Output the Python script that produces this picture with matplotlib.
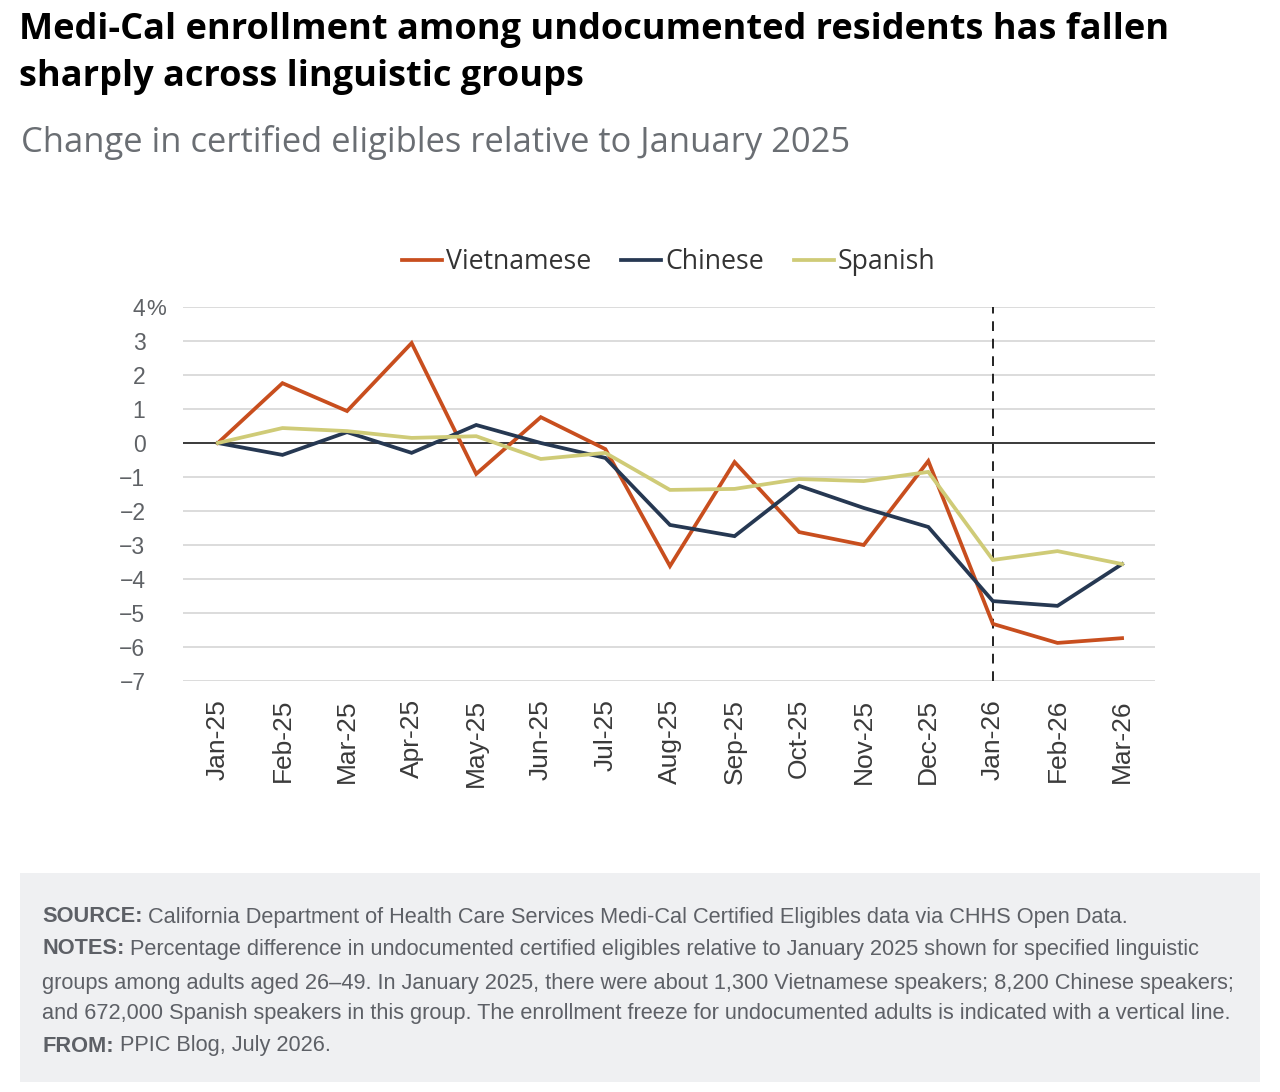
import matplotlib
matplotlib.use("Agg")
import matplotlib.pyplot as plt
from matplotlib.patches import Rectangle
from matplotlib.lines import Line2D

months = ["Jan-25", "Feb-25", "Mar-25", "Apr-25", "May-25", "Jun-25", "Jul-25",
          "Aug-25", "Sep-25", "Oct-25", "Nov-25", "Dec-25", "Jan-26", "Feb-26", "Mar-26"]
vietnamese = [0, 1.76, 0.94, 2.94, -0.91, 0.76, -0.18, -3.62, -0.56, -2.62, -3.0, -0.53, -5.32, -5.88, -5.74]
chinese = [0, -0.35, 0.32, -0.29, 0.53, 0.0, -0.44, -2.41, -2.74, -1.26, -1.91, -2.47, -4.65, -4.79, -3.56]
spanish = [0, 0.44, 0.35, 0.15, 0.20, -0.47, -0.29, -1.38, -1.35, -1.06, -1.12, -0.85, -3.44, -3.18, -3.56]
yticks = [4, 3, 2, 1, 0, -1, -2, -3, -4, -5, -6, -7]
freeze_month = "Jan-26"

series = [("Vietnamese", vietnamese, "#C84E1E"),
          ("Chinese", chinese, "#263852"),
          ("Spanish", spanish, "#CFCB77")]

W, H = 1280, 1092
fig = plt.figure(figsize=(W / 100, H / 100), dpi=100)
fig.patch.set_facecolor("white")

TITLE_FONT = ["Open Sans", "DejaVu Sans"]
BODY_FONT = ["Open Sans", "DejaVu Sans"]
TICK_FONT = ["Liberation Sans", "DejaVu Sans"]
NOTE_FONT = ["Liberation Sans", "DejaVu Sans"]

def fx(px):
    return px / W

def fy(py):
    return 1 - py / H

# Title & subtitle
fig.text(fx(19), fy(30), "Medi-Cal enrollment among undocumented residents has fallen",
         fontsize=26, fontweight="bold", family=TITLE_FONT, color="black", va="center")
fig.text(fx(19), fy(77), "sharply across linguistic groups",
         fontsize=26, fontweight="bold", family=TITLE_FONT, color="black", va="center")
fig.text(fx(21), fy(142), "Change in certified eligibles relative to January 2025",
         fontsize=24.8, family=TITLE_FONT, color="#6a6e73", va="center")

# Axes
ax = fig.add_axes([fx(183), fy(681), fx(1155 - 183), (681 - 307) / H])
x = list(range(len(months)))
ax.set_xlim(-0.54, 14.51)
ax.set_ylim(-7, 4)
for yv in yticks:
    if yv == 0:
        continue
    ax.axhline(yv, color="#dcdcdc", lw=1.4, zorder=1)
ax.axhline(0, color="#3a3a3a", lw=1.4, zorder=2)
xf = months.index(freeze_month)
ax.axvline(xf, color="#222222", lw=1.4, ls=(0, (5, 4)), zorder=2)

for name, vals, col in series:
    ax.plot(x, vals, color=col, lw=2.7, label=name, zorder=3, solid_joinstyle="miter")

for s in ax.spines.values():
    s.set_visible(False)
ax.set_yticks(yticks)
ax.set_yticklabels([str(v).replace("-", "\u2212") for v in yticks])
ax.tick_params(axis="y", length=0, pad=27, labelsize=16.5, labelcolor="#5f6266")
for lab in ax.get_yticklabels():
    lab.set_fontfamily(TICK_FONT)
fig.text(fx(146), ax.transData.transform((0, 4))[1] / H, "%", ha="left", va="center_baseline",
         fontsize=16, color="#5f6266", family=TICK_FONT)
ax.set_xticks(x)
ax.set_xticklabels(months, rotation=90)
ax.tick_params(axis="x", length=0, pad=13, labelsize=19, labelcolor="#3a3a3a")
for lab in ax.get_xticklabels():
    lab.set_fontfamily(TICK_FONT)

handles = [Line2D([0], [0], color=c, lw=2.7) for _, _, c in series]
leg = fig.legend(handles, [n for n, _, _ in series], loc="center",
                 bbox_to_anchor=(fx(669), fy(262)), ncol=3, frameon=False,
                 handlelength=1.5, handletextpad=0.15, columnspacing=1.12,
                 prop={"family": BODY_FONT, "size": 19.2})
for t in leg.get_texts():
    t.set_color("#333333")

# Footer box
fig.patches.append(Rectangle((fx(20), fy(1082)), fx(1240), (1082 - 873) / H,
                             transform=fig.transFigure, facecolor="#eff0f2",
                             edgecolor="none", zorder=0))
notes = [
    ("SOURCE:", " California Department of Health Care Services Medi-Cal Certified Eligibles data via CHHS Open Data.", 917),
    ("NOTES:", " Percentage difference in undocumented certified eligibles relative to January 2025 shown for specified linguistic", 949),
    ("", "groups among adults aged 26\u201349. In January 2025, there were about 1,300 Vietnamese speakers; 8,200 Chinese speakers;", 984),
    ("", "and 672,000 Spanish speakers in this group. The enrollment freeze for undocumented adults is indicated with a vertical line.", 1014),
    ("FROM:", " PPIC Blog, July 2026.", 1046),
]
renderer = fig.canvas.get_renderer()
NOTE_SIZE = 15.7
for bold, rest, ypx in notes:
    x0 = fx(42)
    if bold:
        tb = fig.text(x0, fy(ypx), bold, fontsize=NOTE_SIZE, fontweight="bold",
                      family=NOTE_FONT, color="#5d6066", va="center")
        bb = tb.get_window_extent(renderer=renderer)
        x0 = bb.x1 / W
    fig.text(x0, fy(ypx), rest, fontsize=NOTE_SIZE, family=NOTE_FONT,
             color="#5d6066", va="center")

fig.savefig("out.png", dpi=100)
